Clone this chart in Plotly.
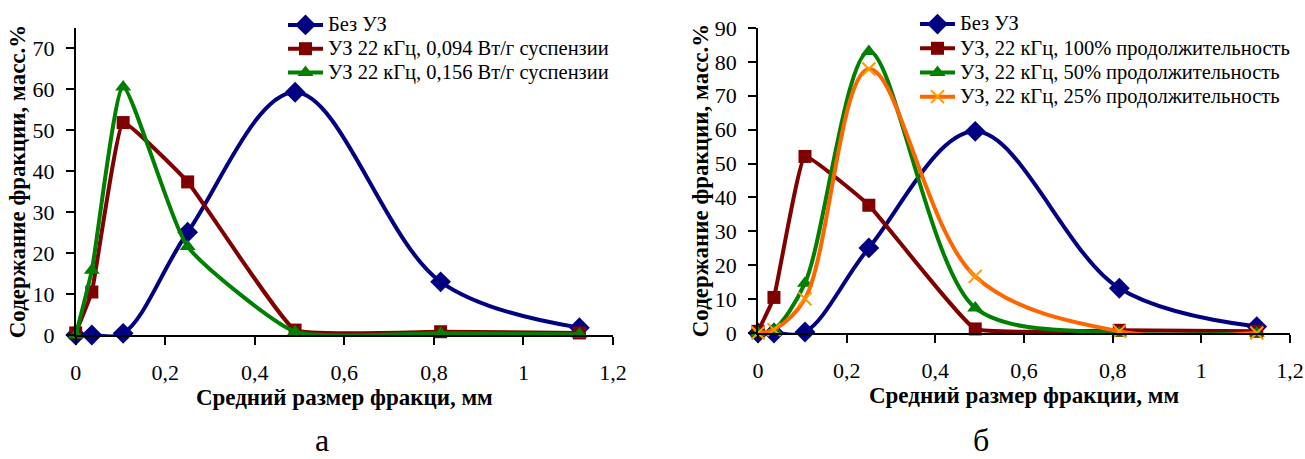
import plotly.graph_objects as go

# ---- data ----
size_mm = [0, 0.036, 0.106, 0.25, 0.49, 0.815, 1.125]

# chart "а"
bez_uz = [0, 0, 0.4, 25.1, 59.3, 13.0, 1.8]
uz_094 = [0.5, 10.5, 51.9, 37.4, 1.2, 0.8, 0.5]
uz_156 = [0, 15.8, 60.6, 21.6, 0.8, 0.4, 0.2]

# chart "б"
bez_uz_b = [0, 0, 0.3, 25.1, 59.5, 13.2, 1.9]
uz_100 = [0.5, 10.5, 52.1, 37.7, 1.2, 0.8, 0.5]
uz_50 = [0, 1.0, 14.7, 83.1, 7.4, 0, 0]
uz_25 = [0, 1.0, 10.1, 77.9, 16.7, 0.5, 0]

names_a = ["Без УЗ", "УЗ 22 кГц, 0,094 Вт/г суспензии", "УЗ 22 кГц, 0,156 Вт/г суспензии"]
names_b = ["Без УЗ", "УЗ, 22 кГц, 100% продолжительность",
           "УЗ, 22 кГц, 50% продолжительность", "УЗ, 22 кГц, 25% продолжительность"]

x_ticks = [0, 0.2, 0.4, 0.6, 0.8, 1.0, 1.2]
x_title_a = "Средний размер фракци, мм"
x_title_b = "Средний размер фракции, мм"
y_title = "Содержание фракции, масс.%"
panel_labels = ["а", "б"]

# ---- style ----
W, H = 1305, 459
FONT = "Liberation Serif, Times New Roman, serif"
NAVY, MAROON, GREEN, ORANGE, ORANGE_M = "#000080", "#800000", "#008000", "#FF6600", "#FF9900"

def lname(s):
    return '<span style="font-size:20.5px">' + s + '</span>'

fig = go.Figure()

def add(x, y, name, color, symbol, size, xa, ya, leg, smooth, mcolor=None, mline=None):
    marker = dict(symbol=symbol, size=size, color=mcolor or color)
    if mline:
        marker["line"] = mline
    fig.add_trace(go.Scatter(
        x=x, y=y, name=lname(name), mode="lines+markers",
        line=dict(color=color, width=4, shape="spline", smoothing=smooth),
        marker=marker, xaxis=xa, yaxis=ya, legend=leg, cliponaxis=False))

add(size_mm, bez_uz, names_a[0], NAVY, "diamond", 16, "x", "y", "legend", 1.0)
add(size_mm, uz_094, names_a[1], MAROON, "square", 13, "x", "y", "legend", 0.3)
add(size_mm, uz_156, names_a[2], GREEN, "triangle-up", 14, "x", "y", "legend", 0.5)

add(size_mm, bez_uz_b, names_b[0], NAVY, "diamond", 16, "x2", "y2", "legend2", 1.0)
add(size_mm, uz_100, names_b[1], MAROON, "square", 13, "x2", "y2", "legend2", 0.3)
add(size_mm, uz_50, names_b[2], GREEN, "triangle-up", 14, "x2", "y2", "legend2", 0.85)
add(size_mm, uz_25, names_b[3], ORANGE, "x-thin-open", 13, "x2", "y2", "legend2", 1.0,
    mcolor=ORANGE_M, mline=dict(color=ORANGE_M, width=2))

def px_x(p):
    return p / W

def px_y(p):
    return 1 - p / H

axis_common = dict(showline=True, linecolor="black", linewidth=1.5, showgrid=False,
                   zeroline=False, ticks="outside", ticklen=8, tickwidth=1.5,
                   tickcolor="black", tickfont=dict(family=FONT, size=22, color="black"),
                   automargin=False)

xa = dict(axis_common, range=[0, 1.2], tickvals=x_ticks, ticklabelstandoff=9,
          title=dict(font=dict(family=FONT, size=23, color="black", weight="bold"), standoff=2))
ya = dict(axis_common, ticklabelstandoff=7,
          title=dict(text=y_title, font=dict(family=FONT, size=23, color="black", weight="bold"), standoff=0))

fig.update_layout(
    width=W, height=H, margin=dict(l=0, r=0, t=0, b=0),
    paper_bgcolor="white", plot_bgcolor="white",
    separators=", ",
    font=dict(family=FONT, color="black"),
    xaxis=dict(xa, domain=[px_x(75.7), px_x(613)], anchor="y", title_text=x_title_a),
    yaxis=dict(ya, domain=[px_y(335), px_y(28)], anchor="x", range=[0, 75], dtick=10),
    xaxis2=dict(xa, domain=[px_x(758), px_x(1290)], anchor="y2", title_text=x_title_b),
    yaxis2=dict(ya, domain=[px_y(333), px_y(28)], anchor="x2", range=[0, 90], dtick=10),
    legend=dict(x=px_x(283), y=px_y(8), xanchor="left", yanchor="top",
                font=dict(family=FONT, size=16, color="black"), itemwidth=35,
                bgcolor="rgba(0,0,0,0)"),
    legend2=dict(x=px_x(915), y=px_y(7), xanchor="left", yanchor="top",
                 font=dict(family=FONT, size=16.3, color="black"), itemwidth=35,
                 bgcolor="rgba(0,0,0,0)"),
    showlegend=True,
)

fig.add_annotation(text=panel_labels[0], x=px_x(314), y=0, xref="paper", yref="paper",
                   yanchor="bottom", showarrow=False, borderpad=0,
                   font=dict(family=FONT, size=32, color="black"))
fig.add_annotation(text=panel_labels[1], x=px_x(990), y=0, xref="paper", yref="paper",
                   yanchor="bottom", showarrow=False, borderpad=0,
                   font=dict(family=FONT, size=32, color="black"))

fig.write_html("out.html")
